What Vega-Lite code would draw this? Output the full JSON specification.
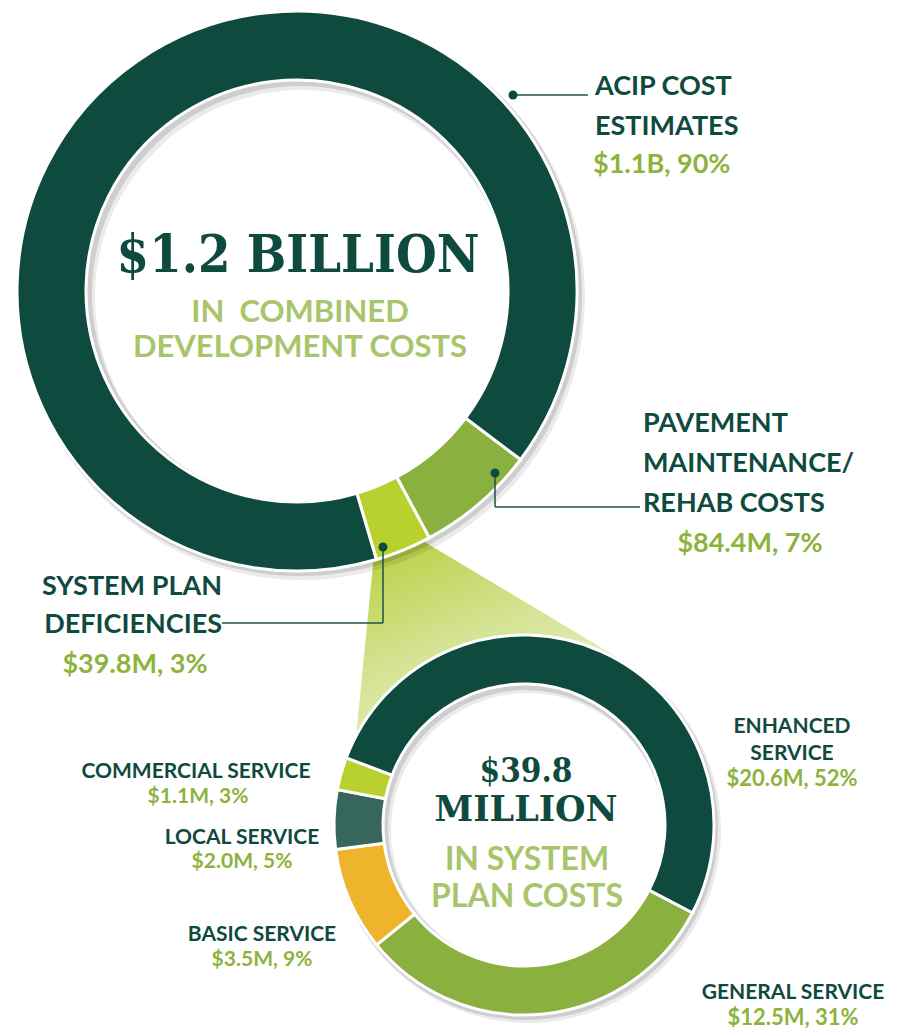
{
  "$schema": "https://vega.github.io/schema/vega-lite/v6.json",
  "width": 898,
  "height": 1030,
  "autosize": "none",
  "padding": 0,
  "background": "#ffffff",
  "config": {"view": {"stroke": null}},
  "datasets": {
    "big": [
      {"segment": "Pavement Maintenance/Rehab Costs", "value": 84.4, "label": "$84.4M, 7%"},
      {"segment": "System Plan Deficiencies", "value": 39.8, "label": "$39.8M, 3%"},
      {"segment": "ACIP Cost Estimates", "value": 1100, "label": "$1.1B, 90%"}
    ],
    "small": [
      {"segment": "General Service", "value": 12.5, "label": "$12.5M, 31%"},
      {"segment": "Basic Service", "value": 3.5, "label": "$3.5M, 9%"},
      {"segment": "Local Service", "value": 2.0, "label": "$2.0M, 5%"},
      {"segment": "Commercial Service", "value": 1.1, "label": "$1.1M, 3%"},
      {"segment": "Enhanced Service", "value": 20.6, "label": "$20.6M, 52%"}
    ]
  },
  "resolve": {"scale": {"theta": "independent", "color": "independent"}},
  "layer": [
    {"data": {"values": [{}]}, "mark": {"type": "arc", "x": 378, "y": 514, "outerRadius": 278, "innerRadius": 0, "theta": 2.11, "theta2": 3.24,
      "fill": {"gradient": "linear", "x1": 0.2, "y1": 0, "x2": 0.6, "y2": 1, "stops": [{"offset": 0, "color": "#b5cd36"}, {"offset": 0.45, "color": "#d3e392"}, {"offset": 1, "color": "#f4f7e6"}]}}, "encoding": {}},
    {"data": {"values": [{}]}, "mark": {"type": "arc", "x": 302, "y": 297, "outerRadius": 283, "innerRadius": 207, "theta": 0, "theta2": 6.2832, "fill": "#000000", "opacity": 0.08}, "encoding": {}},
    {"data": {"values": [{}]}, "mark": {"type": "arc", "x": 300, "y": 294, "outerRadius": 282, "innerRadius": 208, "theta": 0, "theta2": 6.2832, "fill": "#000000", "opacity": 0.12}, "encoding": {}},
    {"data": {"name": "big"}, "transform": [{"window": [{"op": "row_number", "as": "rn"}]}],
      "mark": {"type": "arc", "x": 297, "y": 291, "outerRadius": 280, "innerRadius": 211, "stroke": "#ffffff", "strokeWidth": 3},
      "encoding": {
        "theta": {"field": "value", "type": "quantitative", "scale": {"range": [2.2166, 8.4998]}},
        "color": {"field": "segment", "type": "nominal", "legend": null, "scale": {"domain": ["Pavement Maintenance/Rehab Costs", "System Plan Deficiencies", "ACIP Cost Estimates"], "range": ["#8ab13f", "#b8d12f", "#0f4a3f"]}},
        "order": {"field": "rn", "type": "quantitative"}
      }},
    {"data": {"values": [{}]}, "mark": {"type": "arc", "x": 524, "y": 825, "outerRadius": 150, "innerRadius": 0, "theta": 0, "theta2": 6.2832, "fill": "#ffffff"}, "encoding": {}},
    {"data": {"values": [{}]}, "mark": {"type": "arc", "x": 528, "y": 830, "outerRadius": 193, "innerRadius": 137, "theta": 0, "theta2": 6.2832, "fill": "#000000", "opacity": 0.08}, "encoding": {}},
    {"data": {"values": [{}]}, "mark": {"type": "arc", "x": 526, "y": 828, "outerRadius": 192, "innerRadius": 138, "theta": 0, "theta2": 6.2832, "fill": "#000000", "opacity": 0.12}, "encoding": {}},
    {"data": {"name": "small"}, "transform": [{"window": [{"op": "row_number", "as": "rn"}]}],
      "mark": {"type": "arc", "x": 524, "y": 825, "outerRadius": 190, "innerRadius": 141, "stroke": "#ffffff", "strokeWidth": 3},
      "encoding": {
        "theta": {"field": "value", "type": "quantitative", "scale": {"range": [2.0508, 8.334]}},
        "color": {"field": "segment", "type": "nominal", "legend": null, "scale": {"domain": ["General Service", "Basic Service", "Local Service", "Commercial Service", "Enhanced Service"], "range": ["#8ab13f", "#eeb42b", "#37675c", "#b8d12f", "#0f4a3f"]}},
        "order": {"field": "rn", "type": "quantitative"}
      }},
    {"data": {"values": [{}]}, "mark": {"type": "text", "x": 298, "y": 272, "align": "center", "baseline": "alphabetic", "text": "$1.2 BILLION", "font": "DejaVu Serif Condensed, DejaVu Serif", "fontWeight": "bold", "fontSize": 52, "color": "#0f4a3f"}, "encoding": {}},
    {"data": {"values": [{}]}, "mark": {"type": "text", "x": 300, "y": 322, "align": "center", "baseline": "alphabetic", "text": ["IN\u00a0\u00a0COMBINED", "DEVELOPMENT COSTS"], "lineHeight": 35, "font": "Lato", "fontWeight": "bold", "fontSize": 31, "color": "#a8c56b"}, "encoding": {}},
    {"data": {"values": [{}]}, "mark": {"type": "text", "x": 526, "y": 782, "align": "center", "baseline": "alphabetic", "text": "$39.8", "font": "DejaVu Serif Condensed, DejaVu Serif", "fontWeight": "bold", "fontSize": 33, "color": "#0f4a3f"}, "encoding": {}},
    {"data": {"values": [{}]}, "mark": {"type": "text", "x": 526, "y": 821, "align": "center", "baseline": "alphabetic", "text": "MILLION", "font": "DejaVu Serif", "fontWeight": "bold", "fontSize": 35, "color": "#0f4a3f"}, "encoding": {}},
    {"data": {"values": [{}]}, "mark": {"type": "text", "x": 527, "y": 870, "align": "center", "baseline": "alphabetic", "text": ["IN SYSTEM", "PLAN COSTS"], "lineHeight": 37, "font": "Lato", "fontWeight": "bold", "fontSize": 32, "color": "#a8c56b"}, "encoding": {}},

    {"data": {"values": [{}]}, "mark": {"type": "rule", "color": "#1f4f47", "strokeWidth": 1.5}, "encoding": {"x": {"value": 513}, "y": {"value": 95}, "x2": {"value": 588}, "y2": {"value": 95}}},
    {"data": {"values": [{}]}, "mark": {"type": "rule", "color": "#1f4f47", "strokeWidth": 1.5}, "encoding": {"x": {"value": 495}, "y": {"value": 473}, "x2": {"value": 495}, "y2": {"value": 507}}},
    {"data": {"values": [{}]}, "mark": {"type": "rule", "color": "#1f4f47", "strokeWidth": 1.5}, "encoding": {"x": {"value": 495}, "y": {"value": 507}, "x2": {"value": 640}, "y2": {"value": 507}}},
    {"data": {"values": [{}]}, "mark": {"type": "rule", "color": "#1f4f47", "strokeWidth": 1.5}, "encoding": {"x": {"value": 383}, "y": {"value": 547}, "x2": {"value": 383}, "y2": {"value": 623}}},
    {"data": {"values": [{}]}, "mark": {"type": "rule", "color": "#1f4f47", "strokeWidth": 1.5}, "encoding": {"x": {"value": 222}, "y": {"value": 623}, "x2": {"value": 383}, "y2": {"value": 623}}},
    {"data": {"values": [{}]}, "mark": {"type": "circle", "x": 513, "y": 95, "size": 80, "color": "#0f4a3f", "opacity": 1}, "encoding": {}},
    {"data": {"values": [{}]}, "mark": {"type": "circle", "x": 495, "y": 473, "size": 80, "color": "#0f4a3f", "opacity": 1}, "encoding": {}},
    {"data": {"values": [{}]}, "mark": {"type": "circle", "x": 383, "y": 547, "size": 80, "color": "#0f4a3f", "opacity": 1}, "encoding": {}},

    {"data": {"values": [{}]}, "mark": {"type": "text", "x": 595, "y": 95, "align": "left", "baseline": "alphabetic", "text": ["ACIP COST", "ESTIMATES"], "lineHeight": 40, "font": "Lato", "fontWeight": "bold", "fontSize": 27, "color": "#0f4a3f"}, "encoding": {}},
    {"data": {"name": "big"}, "transform": [{"filter": "datum.segment === 'ACIP Cost Estimates'"}], "mark": {"type": "text", "x": 593, "y": 173, "align": "left", "baseline": "alphabetic", "font": "Lato", "fontWeight": "bold", "fontSize": 27, "color": "#8db33c"}, "encoding": {"text": {"field": "label"}}},
    {"data": {"values": [{}]}, "mark": {"type": "text", "x": 643, "y": 432, "align": "left", "baseline": "alphabetic", "text": ["PAVEMENT", "MAINTENANCE/", "REHAB COSTS"], "lineHeight": 40, "font": "Lato", "fontWeight": "bold", "fontSize": 27, "color": "#0f4a3f"}, "encoding": {}},
    {"data": {"name": "big"}, "transform": [{"filter": "datum.segment === 'Pavement Maintenance/Rehab Costs'"}], "mark": {"type": "text", "x": 750, "y": 552, "align": "center", "baseline": "alphabetic", "font": "Lato", "fontWeight": "bold", "fontSize": 27, "color": "#8db33c"}, "encoding": {"text": {"field": "label"}}},
    {"data": {"values": [{}]}, "mark": {"type": "text", "x": 222, "y": 595, "align": "right", "baseline": "alphabetic", "text": ["SYSTEM PLAN", "DEFICIENCIES"], "lineHeight": 38, "font": "Lato", "fontWeight": "bold", "fontSize": 27, "color": "#0f4a3f"}, "encoding": {}},
    {"data": {"name": "big"}, "transform": [{"filter": "datum.segment === 'System Plan Deficiencies'"}], "mark": {"type": "text", "x": 135, "y": 673, "align": "center", "baseline": "alphabetic", "font": "Lato", "fontWeight": "bold", "fontSize": 27, "color": "#8db33c"}, "encoding": {"text": {"field": "label"}}},

    {"data": {"values": [{}]}, "mark": {"type": "text", "x": 196, "y": 778, "align": "center", "baseline": "alphabetic", "text": "COMMERCIAL SERVICE", "font": "Lato", "fontWeight": "bold", "fontSize": 21, "color": "#0f4a3f"}, "encoding": {}},
    {"data": {"name": "small"}, "transform": [{"filter": "datum.segment === 'Commercial Service'"}], "mark": {"type": "text", "x": 198, "y": 803, "align": "center", "baseline": "alphabetic", "font": "Lato", "fontWeight": "bold", "fontSize": 21, "color": "#8db33c"}, "encoding": {"text": {"field": "label"}}},
    {"data": {"values": [{}]}, "mark": {"type": "text", "x": 242, "y": 844, "align": "center", "baseline": "alphabetic", "text": "LOCAL SERVICE", "font": "Lato", "fontWeight": "bold", "fontSize": 21, "color": "#0f4a3f"}, "encoding": {}},
    {"data": {"name": "small"}, "transform": [{"filter": "datum.segment === 'Local Service'"}], "mark": {"type": "text", "x": 242, "y": 868, "align": "center", "baseline": "alphabetic", "font": "Lato", "fontWeight": "bold", "fontSize": 21, "color": "#8db33c"}, "encoding": {"text": {"field": "label"}}},
    {"data": {"values": [{}]}, "mark": {"type": "text", "x": 262, "y": 941, "align": "center", "baseline": "alphabetic", "text": "BASIC SERVICE", "font": "Lato", "fontWeight": "bold", "fontSize": 21, "color": "#0f4a3f"}, "encoding": {}},
    {"data": {"name": "small"}, "transform": [{"filter": "datum.segment === 'Basic Service'"}], "mark": {"type": "text", "x": 262, "y": 966, "align": "center", "baseline": "alphabetic", "font": "Lato", "fontWeight": "bold", "fontSize": 21, "color": "#8db33c"}, "encoding": {"text": {"field": "label"}}},
    {"data": {"values": [{}]}, "mark": {"type": "text", "x": 792, "y": 733, "align": "center", "baseline": "alphabetic", "text": ["ENHANCED", "SERVICE"], "lineHeight": 27, "font": "Lato", "fontWeight": "bold", "fontSize": 21, "color": "#0f4a3f"}, "encoding": {}},
    {"data": {"name": "small"}, "transform": [{"filter": "datum.segment === 'Enhanced Service'"}], "mark": {"type": "text", "x": 792, "y": 786, "align": "center", "baseline": "alphabetic", "font": "Lato", "fontWeight": "bold", "fontSize": 22, "color": "#8db33c"}, "encoding": {"text": {"field": "label"}}},
    {"data": {"values": [{}]}, "mark": {"type": "text", "x": 793, "y": 999, "align": "center", "baseline": "alphabetic", "text": "GENERAL SERVICE", "font": "Lato", "fontWeight": "bold", "fontSize": 21, "color": "#0f4a3f"}, "encoding": {}},
    {"data": {"name": "small"}, "transform": [{"filter": "datum.segment === 'General Service'"}], "mark": {"type": "text", "x": 793, "y": 1025, "align": "center", "baseline": "alphabetic", "font": "Lato", "fontWeight": "bold", "fontSize": 22, "color": "#8db33c"}, "encoding": {"text": {"field": "label"}}}
  ]
}
